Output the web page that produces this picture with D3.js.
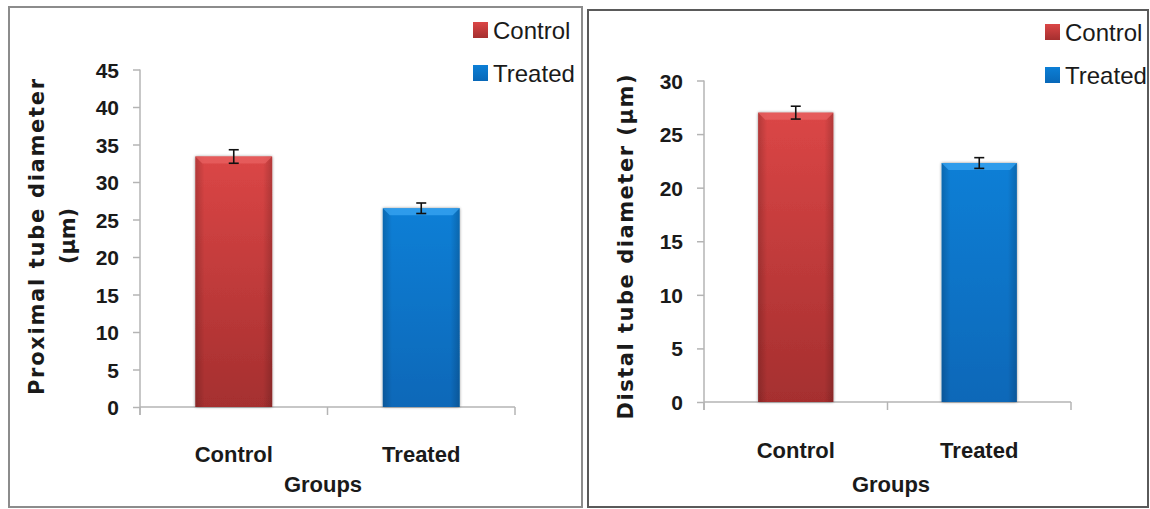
<!DOCTYPE html>
<html>
<head>
<meta charset="utf-8">
<script src="https://cdn.jsdelivr.net/npm/d3@7"></script>
<style>
  html, body { margin: 0; padding: 0; background: #fff; }
  svg text { font-family: "Liberation Sans", Arial, sans-serif; fill: #1a1a1a; }
  .tick-lbl { font-weight: bold; font-size: 21px; }
  .cat-lbl { font-weight: bold; font-size: 22px; }
  .ytitle { font-family: "DejaVu Sans", Verdana, sans-serif !important; font-weight: bold; font-size: 21px; }
  .legend-lbl { font-size: 24px; }
</style>
</head>
<body>
<svg id="viz" width="1150" height="509"></svg>
<script>
// data
var groups = ["Control", "Treated"];
var proximalMeans = [33.4, 26.5];
var proximalErrors = [0.9, 0.7];
var distalMeans = [27.0, 22.3];
var distalErrors = [0.6, 0.5];
var proximalTicks = [0, 5, 10, 15, 20, 25, 30, 35, 40, 45];
var distalTicks = [0, 5, 10, 15, 20, 25, 30];

var svg = d3.select("#viz");

// bar colours: [top, bottom, bevel]
var palette = {
  Control: ["#db4646", "#a52f2f", "#e86262"],
  Treated: ["#0c7fd6", "#0868b8", "#3aa6f2"]
};

var defs = svg.append("defs");
Object.keys(palette).forEach(function(k){
  var g = defs.append("linearGradient")
    .attr("id", "grad-" + k)
    .attr("x1", 0).attr("y1", 0).attr("x2", 0).attr("y2", 1);
  g.append("stop").attr("offset", "0%").attr("stop-color", palette[k][0]);
  g.append("stop").attr("offset", "100%").attr("stop-color", palette[k][1]);
});
// darker sides
var side = defs.append("linearGradient")
  .attr("id", "side-shade")
  .attr("x1", 0).attr("y1", 0).attr("x2", 1).attr("y2", 0);
side.append("stop").attr("offset", "0%").attr("stop-color", "#000").attr("stop-opacity", 0.18);
side.append("stop").attr("offset", "12%").attr("stop-color", "#000").attr("stop-opacity", 0);
side.append("stop").attr("offset", "88%").attr("stop-color", "#000").attr("stop-opacity", 0);
side.append("stop").attr("offset", "100%").attr("stop-color", "#000").attr("stop-opacity", 0.18);

var shadow = defs.append("filter")
  .attr("id", "bar-shadow")
  .attr("x", "-20%").attr("y", "-10%").attr("width", "140%").attr("height", "120%");
shadow.append("feGaussianBlur").attr("in", "SourceAlpha").attr("stdDeviation", 1.6);
shadow.append("feOffset").attr("dx", 0).attr("dy", 0).attr("result", "blur");
shadow.append("feComponentTransfer").append("feFuncA").attr("type", "linear").attr("slope", 0.45);
var merge = shadow.append("feMerge");
merge.append("feMergeNode");
merge.append("feMergeNode").attr("in", "SourceGraphic");

// panel frames
svg.append("rect")
  .attr("x", 9).attr("y", 7).attr("width", 573).attr("height", 500)
  .attr("fill", "none").attr("stroke", "#8c8c8c").attr("stroke-width", 2);
svg.append("rect")
  .attr("x", 588).attr("y", 10).attr("width", 560).attr("height", 497)
  .attr("fill", "none").attr("stroke", "#5a5a5a").attr("stroke-width", 2);

function drawPanel(cfg){
  var means = cfg.means
    , errors = cfg.errors
    , axisColor = "#b4b4b4";

  var y = d3.scaleLinear()
    .domain([0, d3.max(cfg.ticks)])
    .range([cfg.y0, cfg.yTop]);

  var x = d3.scaleBand()
    .domain(groups)
    .range([cfg.x0, cfg.x1])
    .paddingInner(0.59)
    .paddingOuter(0.295);

  var g = svg.append("g").attr("id", cfg.id);

  // y axis
  var yAxis = g.append("g")
    .attr("transform", "translate(" + cfg.x0 + ",0)")
    .call(d3.axisLeft(y).tickValues(cfg.ticks).tickSize(7).tickPadding(14));
  yAxis.select(".domain").attr("stroke", axisColor).attr("stroke-width", 1.5)
    .attr("d", "M0," + cfg.yTop + "V" + (cfg.y0 + 8));
  yAxis.selectAll(".tick line").attr("stroke", axisColor).attr("stroke-width", 1.5);
  yAxis.selectAll(".tick text")
    .attr("class", "tick-lbl")
    .attr("dy", "0.36em")
    .attr("font-family", null).attr("font-size", null)
    .style("fill", "#1a1a1a");

  // x axis line with boundary ticks
  var bounds = [cfg.x0, (cfg.x0 + cfg.x1) / 2, cfg.x1];
  g.append("path")
    .attr("d", "M" + cfg.x0 + "," + cfg.y0 + "H" + cfg.x1)
    .attr("stroke", axisColor).attr("stroke-width", 1.5).attr("fill", "none");
  g.selectAll(".xtick")
    .data(bounds)
   .enter().append("path")
    .attr("class", "xtick")
    .attr("d", d => "M" + d + "," + cfg.y0 + "V" + (cfg.y0 + 8))
    .attr("stroke", axisColor).attr("stroke-width", 1.5);

  // bars
  var bars = g.selectAll(".bar")
    .data(groups)
   .enter().append("g")
    .attr("class", "bar");

  bars.append("rect")
    .attr("x", d => x(d))
    .attr("y", (d, i) => y(means[i]))
    .attr("width", x.bandwidth())
    .attr("height", (d, i) => cfg.y0 - y(means[i]))
    .attr("fill", d => "url(#grad-" + d + ")")
    .attr("filter", "url(#bar-shadow)");

  bars.append("rect")
    .attr("x", d => x(d))
    .attr("y", (d, i) => y(means[i]))
    .attr("width", x.bandwidth())
    .attr("height", (d, i) => cfg.y0 - y(means[i]))
    .attr("fill", "url(#side-shade)");

  // top bevel
  bars.append("path")
    .attr("d", function(d, i){
      var x0 = x(d), x1 = x(d) + x.bandwidth(), t = y(means[i]), b = 7;
      return "M" + x0 + "," + t + "H" + x1 + "L" + (x1 - b) + "," + (t + b) + "H" + (x0 + b) + "Z";
    })
    .attr("fill", d => palette[d][2])
    .attr("opacity", 0.75);

  // error bars
  var err = g.selectAll(".err")
    .data(groups)
   .enter().append("g")
    .attr("class", "err")
    .attr("stroke", "#111").attr("stroke-width", 1.6);
  err.append("line")
    .attr("x1", d => x(d) + x.bandwidth() / 2)
    .attr("x2", d => x(d) + x.bandwidth() / 2)
    .attr("y1", (d, i) => y(means[i] + errors[i]))
    .attr("y2", (d, i) => y(means[i] - errors[i]));
  [1, -1].forEach(function(s){
    err.append("line")
      .attr("x1", d => x(d) + x.bandwidth() / 2 - 5)
      .attr("x2", d => x(d) + x.bandwidth() / 2 + 5)
      .attr("y1", (d, i) => y(means[i] + s * errors[i]))
      .attr("y2", (d, i) => y(means[i] + s * errors[i]));
  });

  // category labels
  g.selectAll(".cat-lbl")
    .data(groups)
   .enter().append("text")
    .attr("class", "cat-lbl")
    .attr("x", d => x(d) + x.bandwidth() / 2)
    .attr("y", cfg.catY)
    .attr("text-anchor", "middle")
    .text(d => d);

  g.append("text")
    .attr("class", "cat-lbl")
    .attr("x", cfg.groupsX)
    .attr("y", cfg.groupsY)
    .attr("text-anchor", "middle")
    .text("Groups");

  // y title lines
  cfg.titles.forEach(function(t){
    g.append("text")
      .attr("class", "ytitle")
      .attr("transform", "translate(" + t.x + "," + t.y + ") rotate(-90)")
      .attr("text-anchor", "middle")
      .attr("dy", "0.35em")
      .attr("textLength", t.len)
      .attr("lengthAdjust", "spacing")
      .text(t.text);
  });

  // legend
  var leg = g.selectAll(".legend")
    .data(groups)
   .enter().append("g")
    .attr("class", "legend")
    .attr("transform", (d, i) => "translate(" + cfg.legX + "," + (cfg.legY + i * 43) + ")");
  leg.append("rect")
    .attr("x", 0).attr("y", 0).attr("width", 15).attr("height", 16)
    .attr("fill", d => "url(#grad-" + d + ")");
  leg.append("text")
    .attr("class", "legend-lbl")
    .attr("x", 20).attr("y", 17)
    .text(d => d);
}

drawPanel({
  id: "proximal",
  means: proximalMeans,
  errors: proximalErrors,
  ticks: proximalTicks,
  x0: 140, x1: 515, y0: 407, yTop: 69.5,
  catY: 462, groupsX: 323, groupsY: 492,
  titles: [
    {text: "Proximal tube diameter", x: 37, y: 237, len: 316},
    {text: "(µm)", x: 68, y: 236, len: 56}
  ],
  legX: 473, legY: 22
});

drawPanel({
  id: "distal",
  means: distalMeans,
  errors: distalErrors,
  ticks: distalTicks,
  x0: 704, x1: 1071, y0: 402, yTop: 80.5,
  catY: 458, groupsX: 891, groupsY: 492,
  titles: [
    {text: "Distal tube diameter (µm)", x: 626, y: 247, len: 345}
  ],
  legX: 1045, legY: 24
});
</script>
</body>
</html>
